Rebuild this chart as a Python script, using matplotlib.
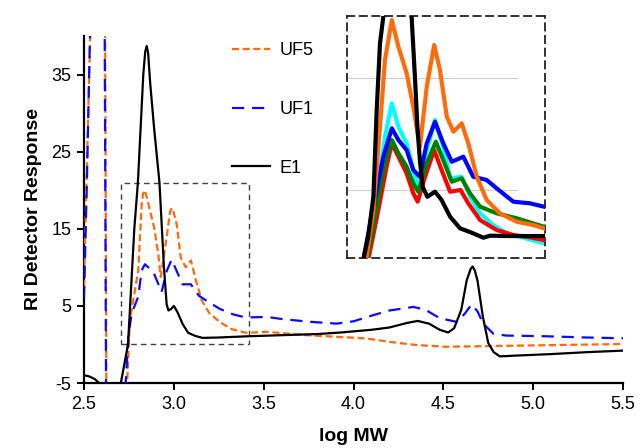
import matplotlib
matplotlib.use("Agg")
import matplotlib.pyplot as plt
from matplotlib.patches import Rectangle

plt.rcParams['font.family'] = ['Liberation Sans', 'DejaVu Sans']

# ---- main chart data (log MW vs RI detector response) ----
e1_x = [2.50, 2.53, 2.56, 2.585, 2.62, 2.68, 2.705, 2.745, 2.78, 2.80, 2.83, 2.841,
        2.849, 2.857, 2.868, 2.89, 2.92, 2.945, 2.96, 2.97, 2.985, 3.00, 3.02, 3.05,
        3.08, 3.12, 3.16, 3.25, 3.40, 3.60, 3.80, 3.93, 4.10, 4.20, 4.30, 4.357,
        4.42, 4.48, 4.527, 4.56, 4.60, 4.63, 4.652, 4.663, 4.675, 4.69, 4.72, 4.75,
        4.78, 4.815, 4.90, 5.10, 5.30, 5.50]
e1_y = [-4.0, -4.15, -4.5, -5.0, -6.5, -6.5, -5.0, 0.0, 15.0, 21.0, 35.0, 38.0,
        38.7, 37.8, 34.0, 28.1, 21.0, 10.0, 5.2, 4.4, 4.6, 5.0, 4.2, 2.6,
        1.5, 1.1, 0.85, 0.9, 1.05, 1.2, 1.35, 1.55, 1.9, 2.2, 2.8, 3.05,
        2.7, 1.9, 1.55, 2.1, 4.5, 8.3, 9.8, 10.1, 9.6, 8.3, 3.6, 0.2,
        -1.0, -1.55, -1.45, -1.25, -1.0, -0.8]

uf1_x = [2.50, 2.515, 2.535, 2.575, 2.615, 2.623, 2.68, 2.732, 2.747, 2.765, 2.802,
         2.821, 2.839, 2.886, 2.932, 2.96, 2.988, 3.02, 3.048, 3.095, 3.14, 3.20,
         3.257, 3.33, 3.40, 3.517, 3.60, 3.75, 3.906, 4.00, 4.11, 4.20, 4.333,
         4.40, 4.48, 4.574, 4.62, 4.657, 4.69, 4.722, 4.778, 4.85, 5.04, 5.30, 5.50]
uf1_y = [6.0, 20.0, 42.0, 70.0, 42.0, -8.0, -10.0, -5.0, 1.0, 4.0, 6.2,
         9.6, 10.4, 9.4, 6.8, 9.5, 11.0, 9.3, 7.8, 7.8, 6.3, 5.4,
         4.6, 3.9, 3.5, 3.57, 3.3, 2.95, 2.7, 3.0, 3.8, 4.4, 4.87,
         4.5, 3.4, 2.93, 4.0, 5.2, 4.3, 2.7, 1.4, 1.15, 1.08, 0.9, 0.8]

uf5_x = [2.50, 2.515, 2.54, 2.575, 2.617, 2.625, 2.68, 2.74, 2.756, 2.802, 2.821,
         2.829, 2.836, 2.845, 2.867, 2.89, 2.913, 2.927, 2.96, 2.979, 2.988, 2.997,
         3.016, 3.038, 3.066, 3.095, 3.123, 3.155, 3.20, 3.257, 3.32, 3.405, 3.517,
         3.74, 4.07, 4.20, 4.35, 4.518, 4.85, 5.20, 5.50]
uf5_y = [7.5, 22.0, 45.0, 70.0, 45.0, -8.0, -10.0, -5.0, 3.15, 9.6, 18.2,
         19.6, 20.0, 19.5, 17.4, 15.2, 11.8, 8.75, 13.9, 17.2, 17.7, 17.3,
         15.6, 11.3, 10.0, 10.9, 8.3, 5.7, 4.0, 2.9, 2.0, 1.5, 1.64,
         1.2, 0.78, 0.34, -0.08, -0.3, -0.18, -0.05, 0.05]

x_ticks = [2.5, 3.0, 3.5, 4.0, 4.5, 5.0, 5.5]
y_ticks = [-5, 5, 15, 25, 35]
zoom_box = (2.705, 0.0, 3.418, 21.0)

# ---- inset (zoomed region) data ----
in_black_x = [2.759, 2.777, 2.796, 2.808, 2.820, 2.832, 2.87, 2.935, 2.947, 2.956,
              2.965, 2.975, 2.992, 3.020, 3.044, 3.075, 3.111, 3.159, 3.196, 3.220,
              3.281, 3.416]
in_black_y = [-1.2, 0.89, 4.44, 12.14, 18.07, 20.43, 40.0, 20.4, 15.10, 10.66,
              7.70, 5.33, 4.44, 4.89, 4.15, 2.67, 1.64, 1.19, 0.80, 0.98,
              0.95, 0.95]
in_orange_x = [2.769, 2.796, 2.820, 2.838, 2.863, 2.887, 2.917, 2.941, 2.965, 2.990,
               3.017, 3.038, 3.063, 3.087, 3.117, 3.141, 3.172, 3.208, 3.256, 3.317,
               3.377, 3.416]
in_orange_y = [-1.2, 3.26, 10.66, 16.58, 20.14, 17.77, 15.40, 12.44, 8.86, 14.21,
               17.92, 15.70, 11.55, 10.22, 10.96, 9.19, 6.22, 4.15, 2.97, 2.22,
               1.93, 1.64]
in_cyan_x = [2.772, 2.808, 2.838, 2.863, 2.887, 2.917, 2.941, 2.959, 2.984, 3.020,
             3.050, 3.075, 3.117, 3.147, 3.184, 3.232, 3.281, 3.416]
in_cyan_y = [-1.2, 4.44, 9.77, 12.74, 10.66, 9.19, 6.82, 5.04, 8.00, 11.26,
             8.88, 6.08, 6.22, 4.44, 2.97, 1.93, 1.19, 0.31]
in_blue_x = [2.759, 2.796, 2.832, 2.863, 2.887, 2.917, 2.941, 2.965, 2.990, 3.020,
             3.050, 3.081, 3.123, 3.159, 3.208, 3.244, 3.305, 3.365, 3.416]
in_blue_y = [-1.2, 3.56, 8.00, 10.52, 9.48, 8.59, 6.82, 6.22, 9.19, 11.10,
             9.19, 7.55, 8.00, 6.22, 5.93, 5.19, 4.00, 3.86, 3.56]
in_green_x = [2.772, 2.808, 2.838, 2.863, 2.887, 2.917, 2.941, 2.959, 2.990, 3.023,
              3.050, 3.081, 3.117, 3.147, 3.184, 3.244, 3.317, 3.416]
in_green_y = [-1.2, 3.56, 7.41, 9.48, 8.30, 7.11, 5.63, 4.89, 7.41, 9.33,
              7.70, 5.78, 6.08, 4.75, 3.56, 2.97, 2.53, 1.78]
in_red_x = [2.777, 2.814, 2.844, 2.863, 2.887, 2.917, 2.941, 2.957, 2.984, 3.017,
            3.044, 3.075, 3.113, 3.141, 3.184, 3.244, 3.305, 3.353, 3.416]
in_red_y = [-1.2, 3.26, 7.11, 9.19, 8.00, 6.52, 4.75, 4.00, 6.22, 8.59,
            6.82, 4.89, 5.04, 3.86, 2.37, 1.49, 1.04, 0.89, 0.60]
in_grid = [5, 15]

ORANGE = '#FF6A0A'
BLUE = '#0A0AFF'

fig = plt.figure(figsize=(6.4, 4.48), dpi=100)
ax = fig.add_axes([84 / 640, 1 - 383 / 448, 539 / 640, 347 / 448])

ax.plot(uf5_x, uf5_y, color=ORANGE, lw=1.6, dashes=(3.2, 1.6), label='UF5', zorder=3)
ax.plot(uf1_x, uf1_y, color=BLUE, lw=1.6, dashes=(5.5, 3.5), label='UF1', zorder=4)
ax.plot(e1_x, e1_y, color='black', lw=1.6, label='E1', zorder=5)

x0, y0, x1, y1 = zoom_box
ax.add_patch(Rectangle((x0, y0), x1 - x0, y1 - y0, fill=False, ec='#404040',
                       lw=1.0, ls=(0, (4, 3)), zorder=2))

ax.set_xlim(2.5, 5.5)
ax.set_ylim(-5, 40)
ax.set_xticks(x_ticks)
ax.set_xticklabels([f'{v:.1f}' for v in x_ticks])
ax.set_yticks(y_ticks)
ax.set_yticklabels([str(v) for v in y_ticks])
for s in ['top', 'right']:
    ax.spines[s].set_visible(False)
for s in ['left', 'bottom']:
    ax.spines[s].set_linewidth(1.6)
ax.tick_params(axis='both', direction='out', length=5, width=1.4, labelsize=13, pad=4)
ax.set_xlabel('log MW', fontsize=14, fontweight='bold', labelpad=11)
ax.set_ylabel('RI Detector Response', fontsize=14, fontweight='bold', labelpad=7)

leg = ax.legend(loc='upper left', bbox_to_anchor=(232 / 640, 1 - 42 / 448),
                bbox_transform=fig.transFigure, frameon=False, fontsize=13,
                labelspacing=2.32, handlelength=2.1, handletextpad=0.55,
                borderpad=0, borderaxespad=0)

# inset
axi = fig.add_axes([347 / 640, 1 - 258 / 448, 198 / 640, 242 / 448])
axi.set_xlim(2.70, 3.42)
axi.set_ylim(-1, 20.5)
for g in in_grid:
    axi.axhline(g, xmin=0, xmax=0.86, color='#cccccc', lw=0.8, zorder=1)
lw_in = 3.0
axi.plot(in_cyan_x, in_cyan_y, color='#00FFFF', lw=lw_in, zorder=2)
axi.plot(in_red_x, in_red_y, color='#FF0000', lw=lw_in, zorder=3)
axi.plot(in_green_x, in_green_y, color='#008000', lw=lw_in, zorder=4)
axi.plot(in_blue_x, in_blue_y, color='#0000FF', lw=lw_in, zorder=5)
axi.plot(in_orange_x, in_orange_y, color='#FF6A0A', lw=lw_in, zorder=6)
axi.plot(in_black_x, in_black_y, color='black', lw=lw_in, zorder=7)
axi.set_xticks([])
axi.set_yticks([])
for s in axi.spines.values():
    s.set_linestyle((0, (4, 3)))
    s.set_linewidth(1.3)
    s.set_edgecolor('#222222')

fig.savefig('out.png', dpi=100)
